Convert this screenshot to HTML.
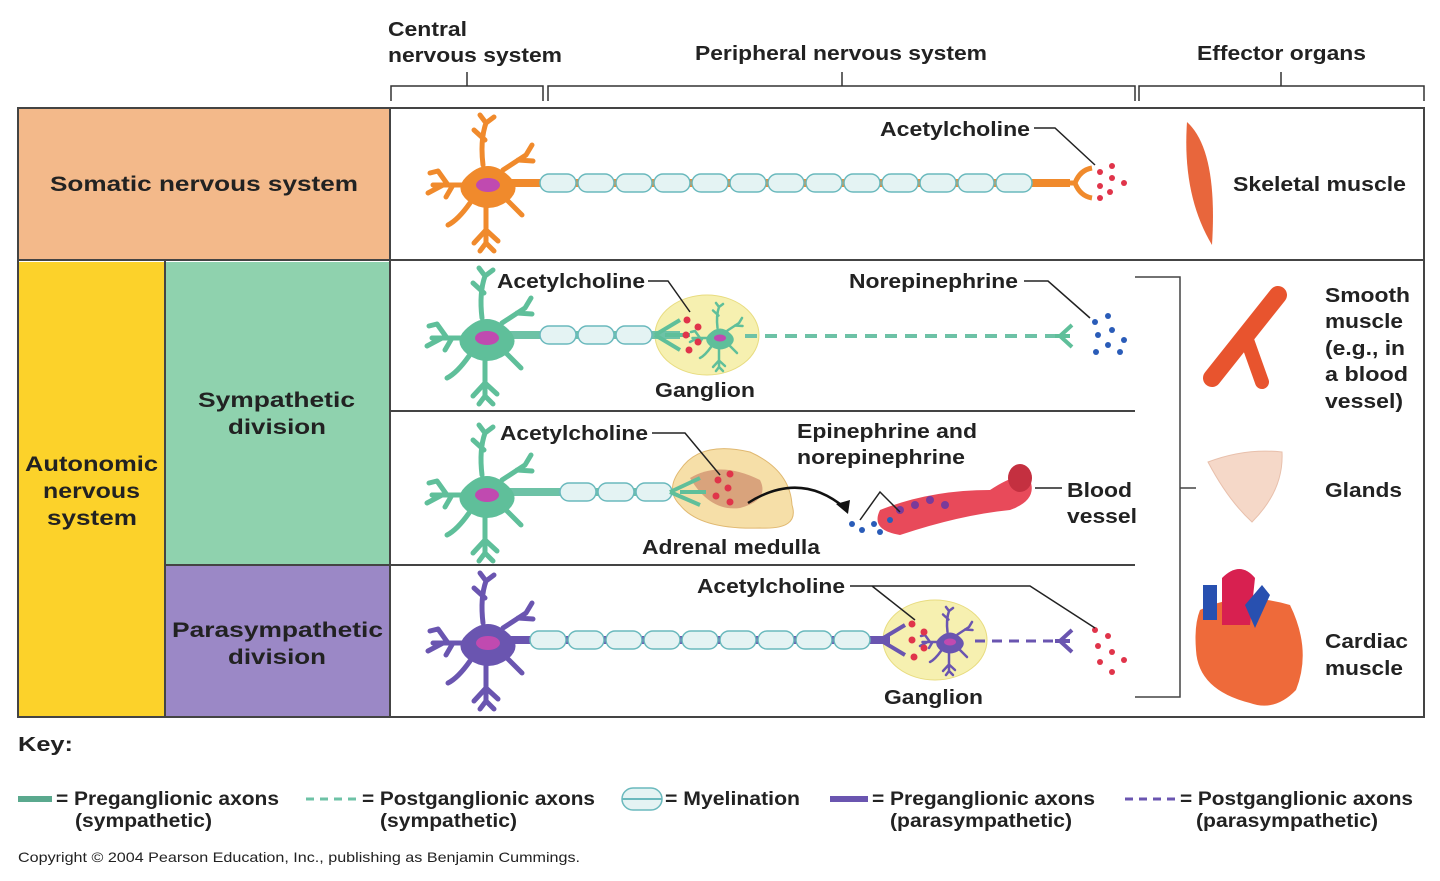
<!DOCTYPE html>
<html><head><meta charset="utf-8"><style>
html,body{margin:0;padding:0;background:#fff}
svg{display:block}
text{font-family:"Liberation Sans",Arial,sans-serif;font-weight:bold;fill:#222}
</style></head><body>
<svg width="1440" height="881" viewBox="0 0 1440 881" xmlns="http://www.w3.org/2000/svg">
<defs>
<g id="nr" fill="currentColor" stroke="currentColor" stroke-linecap="round">
<path d="M-22,-8 Q0,-30 22,-8 Q34,4 20,16 Q0,30 -20,16 Q-34,4 -22,-8Z" stroke="none"/>
<g fill="none" stroke-width="5">
<path d="M-5,-20 Q-8,-45 -2,-62 M-3,-45 L-14,-55 M-2,-62 L6,-68 M-2,-62 L-8,-70"/>
<path d="M15,-15 L38,-30 M30,-25 L45,-24 M38,-30 L44,-40"/>
<path d="M-22,0 L-55,0 M-40,0 L-50,-14 M-45,0 L-60,8 M-35,0 L-42,12 M-50,-14 L-58,-12"/>
<path d="M-18,18 Q-30,35 -40,40"/>
<path d="M-2,22 L-2,58 M-2,45 L-14,58 M-2,45 L10,56 M-2,58 L-8,66 M-2,58 L6,66"/>
<path d="M18,14 L34,30"/>
</g>
<ellipse cx="0" cy="0" rx="12" ry="7" fill="#c04ab0" stroke="none"/>
</g>
<g id="my"><rect x="0" y="-9" width="36" height="18" rx="9" fill="#e4f3f3" stroke="#6ab9bd" stroke-width="1.5"/></g>
</defs>

<!-- top brackets -->
<text x="388" y="36" font-size="20" textLength="79" lengthAdjust="spacingAndGlyphs">Central</text>
<text x="388" y="62" font-size="20" textLength="174" lengthAdjust="spacingAndGlyphs">nervous system</text>
<text x="695" y="60" font-size="20" textLength="292" lengthAdjust="spacingAndGlyphs">Peripheral nervous system</text>
<text x="1197" y="60" font-size="20" textLength="169" lengthAdjust="spacingAndGlyphs">Effector organs</text>
<g fill="none" stroke="#333" stroke-width="1.5">
<path d="M391,101 V86 H543 V101 M467,86 V72"/>
<path d="M548,101 V86 H1135 V101 M842,86 V72"/>
<path d="M1139,101 V86 H1424 V101 M1281,86 V72"/>
</g>

<!-- table -->
<rect x="18" y="108" width="372" height="151" fill="#f3b98a"/>
<rect x="18" y="262" width="147" height="455" fill="#fcd22a"/>
<rect x="165" y="262" width="225" height="303" fill="#8fd2ae"/>
<rect x="165" y="565" width="225" height="152" fill="#9b88c6"/>
<g fill="none" stroke="#444" stroke-width="2">
<rect x="18" y="108" width="1406" height="609"/>
<line x1="18" y1="260" x2="1424" y2="260"/>
<line x1="390" y1="108" x2="390" y2="717"/>
<line x1="165" y1="260" x2="165" y2="717"/>
<line x1="165" y1="565" x2="390" y2="565"/>
<line x1="390" y1="411" x2="1135" y2="411"/>
<line x1="390" y1="565" x2="1135" y2="565"/>
</g>
<path d="M1135,277 H1180 V697 H1135 M1180,488 H1196" fill="none" stroke="#444" stroke-width="1.5"/>
<text x="50" y="191" font-size="21" textLength="308" lengthAdjust="spacingAndGlyphs">Somatic nervous system</text>
<text x="25" y="471" font-size="21" textLength="133" lengthAdjust="spacingAndGlyphs">Autonomic</text>
<text x="43" y="498" font-size="21" textLength="97" lengthAdjust="spacingAndGlyphs">nervous</text>
<text x="47" y="525" font-size="21" textLength="90" lengthAdjust="spacingAndGlyphs">system</text>
<text x="198" y="407" font-size="21" textLength="157" lengthAdjust="spacingAndGlyphs">Sympathetic</text>
<text x="228" y="434" font-size="21" textLength="98" lengthAdjust="spacingAndGlyphs">division</text>
<text x="172" y="637" font-size="21" textLength="211" lengthAdjust="spacingAndGlyphs">Parasympathetic</text>
<text x="228" y="664" font-size="21" textLength="98" lengthAdjust="spacingAndGlyphs">division</text>

<!-- somatic row -->
<line x1="500" y1="183" x2="1070" y2="183" stroke="#f08a2c" stroke-width="8"/>
<g><use href="#my" x="540" y="183"/><use href="#my" x="578" y="183"/><use href="#my" x="616" y="183"/><use href="#my" x="654" y="183"/><use href="#my" x="692" y="183"/><use href="#my" x="730" y="183"/><use href="#my" x="768" y="183"/><use href="#my" x="806" y="183"/><use href="#my" x="844" y="183"/><use href="#my" x="882" y="183"/><use href="#my" x="920" y="183"/><use href="#my" x="958" y="183"/><use href="#my" x="996" y="183"/></g>
<use href="#nr" x="488" y="185" style="color:#f08a2c"/>
<path d="M1060,183 L1075,183 M1075,183 Q1080,170 1092,168 M1075,183 Q1080,196 1092,198" fill="none" stroke="#f08a2c" stroke-width="5"/>
<g fill="#e0344a"><circle cx="1100" cy="172" r="3"/><circle cx="1112" cy="178" r="3"/><circle cx="1100" cy="186" r="3"/><circle cx="1124" cy="183" r="3"/><circle cx="1110" cy="192" r="3"/><circle cx="1100" cy="198" r="3"/><circle cx="1112" cy="166" r="3"/></g>
<text x="880" y="136" font-size="20" textLength="150" lengthAdjust="spacingAndGlyphs">Acetylcholine</text>
<path d="M1034,128 H1055 L1095,165" fill="none" stroke="#222" stroke-width="1.5"/>
<path d="M1187,122 Q1218,150 1212,245 Q1182,195 1187,122Z" fill="#e8663c"/>
<text x="1233" y="191" font-size="20" textLength="173" lengthAdjust="spacingAndGlyphs">Skeletal muscle</text>

<!-- sympathetic row 1 -->
<ellipse cx="707" cy="335" rx="52" ry="40" fill="#f6f0b0" stroke="#e8dc80"/>
<line x1="500" y1="335" x2="680" y2="335" stroke="#6dc2a6" stroke-width="8"/>
<use href="#my" x="540" y="335"/><use href="#my" x="578" y="335"/><use href="#my" x="616" y="335"/>
<use href="#nr" x="487" y="338" style="color:#5fbf9a"/>
<path d="M655,335 L680,320 M655,335 L680,350 M665,335 L690,335" stroke="#5fbf9a" stroke-width="4" fill="none"/>
<g transform="translate(720,338) scale(0.5)"><use href="#nr" style="color:#5fbf9a"/></g>
<line x1="745" y1="336" x2="1060" y2="336" stroke="#6dc2a6" stroke-width="4" stroke-dasharray="12,8"/>
<path d="M1055,336 H1070 M1060,336 L1072,325 M1060,336 L1072,347" stroke="#5fbf9a" stroke-width="4" fill="none"/>
<g fill="#e0344a"><circle cx="687" cy="320" r="3.5"/><circle cx="698" cy="327" r="3.5"/><circle cx="686" cy="335" r="3.5"/><circle cx="698" cy="342" r="3.5"/><circle cx="689" cy="350" r="3.5"/></g>
<g fill="#2a5cb8"><circle cx="1095" cy="322" r="3"/><circle cx="1108" cy="316" r="3"/><circle cx="1098" cy="335" r="3"/><circle cx="1112" cy="330" r="3"/><circle cx="1124" cy="340" r="3"/><circle cx="1108" cy="345" r="3"/><circle cx="1096" cy="352" r="3"/><circle cx="1120" cy="352" r="3"/></g>
<text x="497" y="288" font-size="20" textLength="148" lengthAdjust="spacingAndGlyphs">Acetylcholine</text>
<path d="M648,281 H668 L690,312" fill="none" stroke="#222" stroke-width="1.5"/>
<text x="655" y="397" font-size="20" textLength="100" lengthAdjust="spacingAndGlyphs">Ganglion</text>
<text x="849" y="288" font-size="20" textLength="169" lengthAdjust="spacingAndGlyphs">Norepinephrine</text>
<path d="M1024,281 H1048 L1090,318" fill="none" stroke="#222" stroke-width="1.5"/>

<!-- sympathetic row 2 -->
<path d="M680,470 Q700,440 750,452 Q790,470 792,505 Q800,530 760,528 Q700,530 680,505 Q665,490 680,470Z" fill="#f6dfa8" stroke="#e0b870"/>
<path d="M690,478 Q720,460 760,480 Q770,500 740,508 Q710,512 690,478Z" fill="#d9a37c"/>
<line x1="500" y1="492" x2="670" y2="492" stroke="#6dc2a6" stroke-width="8"/>
<use href="#my" x="560" y="492"/><use href="#my" x="598" y="492"/><use href="#my" x="636" y="492"/>
<use href="#nr" x="487" y="495" style="color:#5fbf9a"/>
<path d="M670,492 L700,478 M670,492 L700,505 M680,492 L706,492" stroke="#5fbf9a" stroke-width="4" fill="none"/>
<g fill="#e0344a"><circle cx="718" cy="480" r="3.5"/><circle cx="730" cy="474" r="3.5"/><circle cx="728" cy="488" r="3.5"/><circle cx="716" cy="496" r="3.5"/><circle cx="730" cy="502" r="3.5"/></g>
<path d="M748,503 Q800,470 845,508" fill="none" stroke="#111" stroke-width="2.5"/>
<path d="M848,514 L836,504 L850,500Z" fill="#111"/>
<path d="M880,510 Q930,490 990,490 Q1020,470 1030,480 Q1038,500 1010,510 Q960,515 900,535 Q870,530 880,510Z" fill="#e84a5a"/>
<ellipse cx="1020" cy="478" rx="12" ry="14" fill="#c43040"/>
<g fill="#2a5cb8"><circle cx="852" cy="524" r="3"/><circle cx="862" cy="530" r="3"/><circle cx="874" cy="524" r="3"/><circle cx="880" cy="532" r="3"/><circle cx="890" cy="520" r="3"/></g>
<g fill="#7a3a9a"><circle cx="900" cy="510" r="4"/><circle cx="915" cy="505" r="4"/><circle cx="930" cy="500" r="4"/><circle cx="945" cy="505" r="4"/></g>
<text x="500" y="440" font-size="20" textLength="148" lengthAdjust="spacingAndGlyphs">Acetylcholine</text>
<path d="M652,433 H685 L720,475" fill="none" stroke="#222" stroke-width="1.5"/>
<text x="797" y="438" font-size="20" textLength="180" lengthAdjust="spacingAndGlyphs">Epinephrine and</text>
<text x="797" y="464" font-size="20" textLength="168" lengthAdjust="spacingAndGlyphs">norepinephrine</text>
<path d="M860,520 L880,492 L900,512" fill="none" stroke="#222" stroke-width="1.5"/>
<text x="642" y="554" font-size="20" textLength="178" lengthAdjust="spacingAndGlyphs">Adrenal medulla</text>
<text x="1067" y="497" font-size="20" textLength="65" lengthAdjust="spacingAndGlyphs">Blood</text>
<text x="1067" y="523" font-size="20" textLength="70" lengthAdjust="spacingAndGlyphs">vessel</text>
<line x1="1035" y1="488" x2="1062" y2="488" stroke="#222" stroke-width="1.5"/>

<!-- parasympathetic row -->
<ellipse cx="935" cy="640" rx="52" ry="40" fill="#f6f0b0" stroke="#e8dc80"/>
<line x1="500" y1="640" x2="890" y2="640" stroke="#6a55b0" stroke-width="8"/>
<g><use href="#my" x="530" y="640"/><use href="#my" x="568" y="640"/><use href="#my" x="606" y="640"/><use href="#my" x="644" y="640"/><use href="#my" x="682" y="640"/><use href="#my" x="720" y="640"/><use href="#my" x="758" y="640"/><use href="#my" x="796" y="640"/><use href="#my" x="834" y="640"/></g>
<use href="#nr" x="488" y="643" style="color:#6a55b0"/>
<path d="M880,640 L905,625 M880,640 L905,655" stroke="#6a55b0" stroke-width="4" fill="none"/>
<g transform="translate(950,642) scale(0.5)"><use href="#nr" style="color:#6a55b0"/></g>
<line x1="975" y1="641" x2="1060" y2="641" stroke="#6a55b0" stroke-width="3" stroke-dasharray="10,7"/>
<path d="M1055,641 H1070 M1060,641 L1072,630 M1060,641 L1072,652" stroke="#6a55b0" stroke-width="4" fill="none"/>
<g fill="#e0344a"><circle cx="912" cy="624" r="3.5"/><circle cx="924" cy="632" r="3.5"/><circle cx="912" cy="640" r="3.5"/><circle cx="924" cy="648" r="3.5"/><circle cx="914" cy="657" r="3.5"/></g>
<g fill="#e0344a"><circle cx="1095" cy="630" r="3"/><circle cx="1108" cy="636" r="3"/><circle cx="1098" cy="646" r="3"/><circle cx="1112" cy="652" r="3"/><circle cx="1124" cy="660" r="3"/><circle cx="1100" cy="662" r="3"/><circle cx="1112" cy="672" r="3"/></g>
<text x="697" y="593" font-size="20" textLength="148" lengthAdjust="spacingAndGlyphs">Acetylcholine</text>
<path d="M850,586 H872 L915,620 M872,586 H1030 L1095,628" fill="none" stroke="#222" stroke-width="1.5"/>
<text x="884" y="704" font-size="20" textLength="99" lengthAdjust="spacingAndGlyphs">Ganglion</text>

<!-- effectors -->
<path d="M1278,295 L1212,378" stroke="#e8542e" stroke-width="18" stroke-linecap="round"/>
<path d="M1247,340 L1262,382" stroke="#e8542e" stroke-width="14" stroke-linecap="round"/>
<text x="1325" y="302" font-size="20" textLength="85" lengthAdjust="spacingAndGlyphs">Smooth</text>
<text x="1325" y="328" font-size="20" textLength="78" lengthAdjust="spacingAndGlyphs">muscle</text>
<text x="1325" y="355" font-size="20" textLength="80" lengthAdjust="spacingAndGlyphs">(e.g., in</text>
<text x="1325" y="381" font-size="20" textLength="83" lengthAdjust="spacingAndGlyphs">a blood</text>
<text x="1325" y="408" font-size="20" textLength="78" lengthAdjust="spacingAndGlyphs">vessel)</text>
<path d="M1208,462 Q1245,448 1282,452 Q1284,490 1252,522 Q1228,500 1208,462Z" fill="#f5d8c8" stroke="#e8c0ac"/>
<text x="1325" y="497" font-size="20" textLength="77" lengthAdjust="spacingAndGlyphs">Glands</text>
<path d="M1200,610 Q1240,590 1290,605 Q1312,650 1296,690 Q1275,712 1250,703 Q1198,690 1196,650 Q1194,625 1200,610Z" fill="#ee6a3a"/>
<path d="M1222,578 Q1240,560 1255,578 L1250,625 L1222,625Z" fill="#d82050"/>
<rect x="1203" y="585" width="14" height="35" fill="#2850b0"/>
<path d="M1245,605 L1262,585 L1270,595 L1255,628Z" fill="#2850b0"/>
<text x="1325" y="648" font-size="20" textLength="83" lengthAdjust="spacingAndGlyphs">Cardiac</text>
<text x="1325" y="675" font-size="20" textLength="78" lengthAdjust="spacingAndGlyphs">muscle</text>

<!-- key -->
<text x="18" y="751" font-size="20" textLength="55" lengthAdjust="spacingAndGlyphs">Key:</text>
<line x1="18" y1="799" x2="52" y2="799" stroke="#5aa98e" stroke-width="6"/>
<text x="56" y="805" font-size="19" textLength="223" lengthAdjust="spacingAndGlyphs">= Preganglionic axons</text>
<text x="75" y="827" font-size="19" textLength="137" lengthAdjust="spacingAndGlyphs">(sympathetic)</text>
<line x1="306" y1="799" x2="360" y2="799" stroke="#6dc2a6" stroke-width="3" stroke-dasharray="8,6"/>
<text x="362" y="805" font-size="19" textLength="233" lengthAdjust="spacingAndGlyphs">= Postganglionic axons</text>
<text x="380" y="827" font-size="19" textLength="137" lengthAdjust="spacingAndGlyphs">(sympathetic)</text>
<rect x="622" y="788" width="40" height="22" rx="11" fill="#e4f3f3" stroke="#6ab9bd" stroke-width="1.5"/>
<line x1="622" y1="799" x2="662" y2="799" stroke="#6ab9bd" stroke-width="2"/>
<text x="665" y="805" font-size="19" textLength="135" lengthAdjust="spacingAndGlyphs">= Myelination</text>
<line x1="830" y1="799" x2="868" y2="799" stroke="#6a55b0" stroke-width="6"/>
<text x="872" y="805" font-size="19" textLength="223" lengthAdjust="spacingAndGlyphs">= Preganglionic axons</text>
<text x="890" y="827" font-size="19" textLength="182" lengthAdjust="spacingAndGlyphs">(parasympathetic)</text>
<line x1="1125" y1="799" x2="1178" y2="799" stroke="#6a55b0" stroke-width="3" stroke-dasharray="8,6"/>
<text x="1180" y="805" font-size="19" textLength="233" lengthAdjust="spacingAndGlyphs">= Postganglionic axons</text>
<text x="1196" y="827" font-size="19" textLength="182" lengthAdjust="spacingAndGlyphs">(parasympathetic)</text>
<text x="18" y="862" font-size="14" style="font-weight:normal" fill="#444" textLength="562" lengthAdjust="spacingAndGlyphs">Copyright © 2004 Pearson Education, Inc., publishing as Benjamin Cummings.</text>
</svg>
</body></html>
